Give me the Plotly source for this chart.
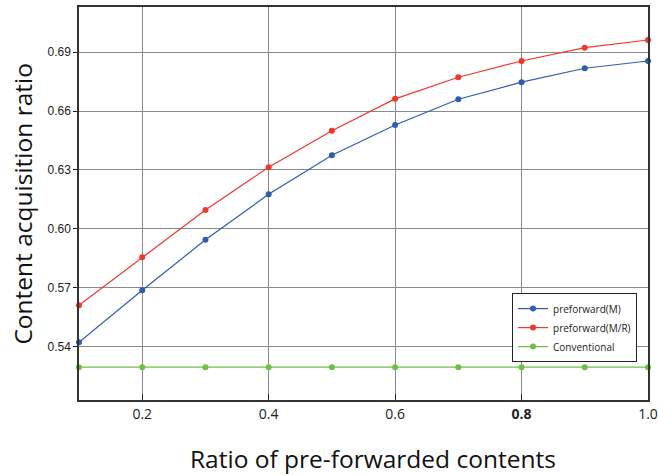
import plotly.graph_objects as go

x_vals = [0.1, 0.2, 0.3, 0.4, 0.5, 0.6, 0.7, 0.8, 0.9, 1.0]
preforward_m = [0.5422, 0.5687, 0.5944, 0.6176, 0.6375, 0.6529, 0.6660, 0.6747, 0.6818, 0.6855]
preforward_mr = [0.5611, 0.5855, 0.6096, 0.6314, 0.6500, 0.6662, 0.6772, 0.6855, 0.6923, 0.6962]
conventional = [0.5295] * 10

x_ticks = [0.2, 0.4, 0.6, 0.8, 1.0]
x_tick_labels = ["0.2", "0.4", "0.6", "<b>0.8</b>", "1.0"]
y_ticks = [0.54, 0.57, 0.60, 0.63, 0.66, 0.69]
y_tick_labels = ["0.54", "0.57", "0.60", "0.63", "0.66", "0.69"]

fig = go.Figure()
series = [
    ("preforward(M)", preforward_m, "#2F5DB4"),
    ("preforward(M/R)", preforward_mr, "#F2372A"),
    ("Conventional", conventional, "#6CC23F"),
]
for name, ys, color in series:
    fig.add_trace(go.Scatter(
        x=x_vals, y=ys, name=name, mode="lines+markers",
        line=dict(color=color, width=1.2),
        marker=dict(color=color, size=6),
        cliponaxis=False,
    ))

fig.update_layout(
    width=658, height=475,
    margin=dict(l=79, r=10, t=7, b=75, autoexpand=False),
    paper_bgcolor="white", plot_bgcolor="white",
    showlegend=True,
    legend=dict(
        x=0.761, y=0.272, xanchor="left", yanchor="top",
        bordercolor="#222", borderwidth=1, bgcolor="white",
        font=dict(family="Open Sans", size=10, color="#222"),
        tracegroupgap=0, itemwidth=30,
    ),
    xaxis=dict(
        range=[0.1, 1.0], tickvals=x_ticks, ticktext=x_tick_labels,
        showgrid=True, gridcolor="#8a8a8a", gridwidth=1,
        showline=True, linecolor="#333", linewidth=1.5, mirror=True,
        ticks="inside", ticklen=6, tickcolor="#222",
        tickfont=dict(family="Open Sans", size=14, color="#222"),
        automargin=False, zeroline=False,
    ),
    yaxis=dict(
        range=[0.5128, 0.713], tickvals=y_ticks, ticktext=y_tick_labels,
        showgrid=True, gridcolor="#8a8a8a", gridwidth=1,
        showline=True, linecolor="#333", linewidth=1.5, mirror=True,
        ticks="outside", ticklen=4, tickcolor="#222",
        tickfont=dict(family="Liberation Sans", size=12, color="#222"),
        automargin=False, zeroline=False,
    ),
    annotations=[
        dict(text="Ratio of pre-forwarded contents", xref="paper", yref="paper",
             x=0.517, y=-0.148, xanchor="center", yanchor="middle", showarrow=False,
             font=dict(family="Open Sans", size=24.5, color="#111")),
        dict(text="Content acquisition ratio", xref="paper", yref="paper",
             x=-0.1, y=0.5, xanchor="center", yanchor="middle", showarrow=False,
             textangle=-90, font=dict(family="Open Sans", size=24.5, color="#111")),
    ],
)

fig.write_html("out.html", config={"displayModeBar": False},
               post_script="document.body.style.margin='0';")
